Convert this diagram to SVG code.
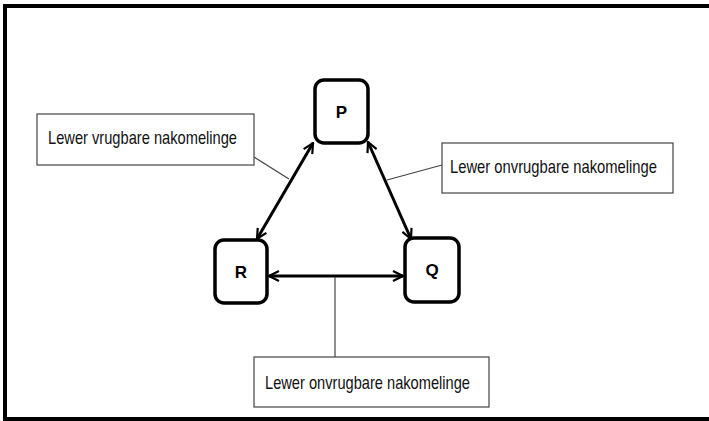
<svg xmlns="http://www.w3.org/2000/svg" width="709" height="421" viewBox="0 0 709 421">
<style>
.frame{fill:none;stroke:#000;stroke-width:4}
.node rect{fill:#fff;stroke:#000;stroke-width:3.5}
.node text{font-family:"Liberation Sans",Arial,sans-serif;font-weight:bold;font-size:17px;fill:#000;text-anchor:middle}
.conn{stroke:#000;stroke-width:3;fill:none;marker-start:url(#ah);marker-end:url(#ah)}
.lead{stroke:#444;stroke-width:1.2;fill:none}
.call rect{fill:#fff;stroke:#444;stroke-width:1.2}
.call text{font-family:"Liberation Sans",Arial,sans-serif;font-size:19px;fill:#111}
</style>
<defs>
<marker id="ah" viewBox="0 0 12 12" refX="11" refY="6" markerWidth="12" markerHeight="12" markerUnits="userSpaceOnUse" orient="auto-start-reverse">
<path d="M1,1 L11,6 L1,11" fill="none" stroke="#000" stroke-width="2.2"/>
</marker>
</defs>
<rect width="709" height="421" fill="#fff"/>
<rect class="frame" x="5" y="6" width="720" height="413"/>
<g id="connectors">
<line class="conn" x1="313" y1="143" x2="257" y2="239"/>
<line class="conn" x1="368" y1="142" x2="411" y2="239"/>
<line class="conn" x1="269" y1="276" x2="403" y2="276"/>
<line class="lead" x1="254" y1="157" x2="289" y2="179"/>
<line class="lead" x1="442" y1="165" x2="387" y2="180"/>
<line class="lead" x1="335" y1="277" x2="335" y2="357"/>
</g>
<g id="P" class="node"><rect x="315" y="80" width="53" height="63" rx="9"/><text x="341.5" y="118">P</text></g>
<g id="R" class="node"><rect x="215" y="240" width="52" height="63" rx="9"/><text x="241" y="278">R</text></g>
<g id="Q" class="node"><rect x="405" y="238" width="54" height="64" rx="9"/><text x="432" y="276">Q</text></g>
<g id="callout1" class="call"><rect x="37" y="114" width="217" height="51"/><text x="48" y="144" textLength="189" lengthAdjust="spacingAndGlyphs">Lewer vrugbare nakomelinge</text></g>
<g id="callout2" class="call"><rect x="442" y="143" width="231" height="50"/><text x="450" y="173" textLength="207" lengthAdjust="spacingAndGlyphs">Lewer onvrugbare nakomelinge</text></g>
<g id="callout3" class="call"><rect x="254" y="357" width="235" height="50"/><text x="265" y="389" textLength="205" lengthAdjust="spacingAndGlyphs">Lewer onvrugbare nakomelinge</text></g>
</svg>
